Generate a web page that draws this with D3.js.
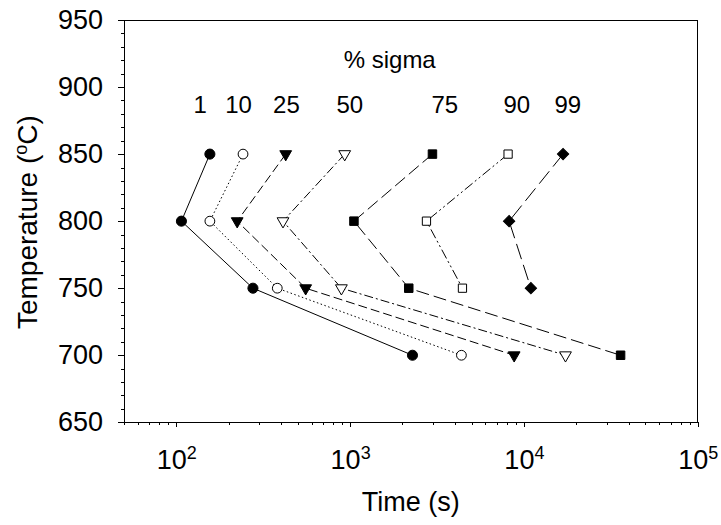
<!DOCTYPE html>
<html>
<head>
<meta charset="utf-8">
<script src="https://cdn.jsdelivr.net/npm/d3@7"></script>
<style>
    body { margin: 0; background: #fff; }
    svg text { font-family: Arial, "Liberation Sans", sans-serif; fill: #000; }
    .axis path, .axis line { stroke: #000; stroke-width: 1; shape-rendering: crispEdges; }
    .series { fill: none; stroke: #000; stroke-width: 1; }
</style>
</head>
<body>
<script>
(function() {
    'use strict';

    // temperatures (ºC), same for every series; times in seconds
    let temps = [850, 800, 750, 700];
    let sigma1 = [156, 107, 276, 2285];
    let sigma10 = [242, 156, 381, 4370];
    let sigma25 = [426, 224, 555, 8790];
    let sigma50 = [931, 411, 891, 17350];
    let sigma75 = [2977, 1052, 2175, 36000];
    let sigma90 = [8110, 2750, 4430];
    let sigma99 = [16800, 8220, 10970];

    let seriesNames = ["1", "10", "25", "50", "75", "90", "99"];
    let seriesTimes = [sigma1, sigma10, sigma25, sigma50, sigma75, sigma90, sigma99];
    let labelTimes = [137, 228, 430, 995, 3505, 9100, 17900];
    let labelTemp = 880.5;
    let titleTime = 1690;
    let titleTemp = 914;

    let yTicks = [650, 700, 750, 800, 850, 900, 950];
    let xTicks = [1e2, 1e3, 1e4, 1e5];

    let symbols = ["circleFill", "circleOpen", "triFill", "triOpen", "squareFill", "squareOpen", "diamondFill"];
    let dashes = [null, "1.5,2.5", "9,4", "9,3,2,3", "13,5", "10,3,2,3,2,3", "16,6"];

    let W = 721, H = 525;
    let left = 124, top = 20, right = 697.7, bottom = 422.3;

    let svg = d3.select("body").append("svg")
        .attr("width", W)
        .attr("height", H);

    let x = d3.scaleLog().domain([50, 1e5]).range([left, right]);
    let y = d3.scaleLinear().domain([650, 950]).range([bottom, top]);

    // frame
    svg.append("rect")
        .attr("x", left).attr("y", top)
        .attr("width", right - left).attr("height", bottom - top)
        .attr("fill", "none").attr("stroke", "#000")
        .attr("shape-rendering", "crispEdges");

    // y axis: minor then major ticks
    let yMinor = d3.range(650, 951, 10).filter(function(v) { return v % 50 !== 0; });
    svg.append("g").attr("class", "axis")
        .attr("transform", "translate(" + left + ",0)")
        .call(d3.axisLeft(y).tickValues(yMinor).tickSize(3).tickFormat(""))
        .call(function(g) { g.select(".domain").remove(); });
    let yAxis = svg.append("g").attr("class", "axis")
        .attr("transform", "translate(" + left + ",0)")
        .call(d3.axisLeft(y).tickValues(yTicks).tickSize(6).tickPadding(15));
    yAxis.select(".domain").remove();
    yAxis.selectAll("text").attr("font-size", 27).attr("font-family", null);

    // x axis
    let xMinor = [];
    [10, 100, 1000, 10000].forEach(function(d) {
        for (let k = 2; k <= 9; k++) {
            let v = d * k;
            if (v >= 50 && v <= 1e5) xMinor.push(v);
        }
    });
    svg.append("g").attr("class", "axis")
        .attr("transform", "translate(0," + bottom + ")")
        .call(d3.axisBottom(x).tickValues(xMinor).tickSize(3).tickFormat(""))
        .call(function(g) { g.select(".domain").remove(); });
    let xAxis = svg.append("g").attr("class", "axis")
        .attr("transform", "translate(0," + bottom + ")")
        .call(d3.axisBottom(x).tickValues(xTicks).tickSize(5).tickFormat(""));
    xAxis.select(".domain").remove();
    xAxis.selectAll(".tick").append("text")
        .attr("y", 47)
        .attr("text-anchor", "middle")
        .attr("font-size", 27)
        .attr("font-family", null)
        .each(function(d) {
            let t = d3.select(this);
            t.append("tspan").text("10");
            t.append("tspan").attr("dy", -10).attr("font-size", 18)
                .text(Math.round(Math.log10(d)));
        });

    // axis titles
    svg.append("text")
        .attr("x", (left + right) / 2).attr("y", 511)
        .attr("text-anchor", "middle").attr("font-size", 27)
        .text("Time (s)");
    let yt = svg.append("text")
        .attr("transform", "translate(37," + ((top + bottom) / 2 + 1) + ") rotate(-90)")
        .attr("text-anchor", "middle").attr("font-size", 28);
    yt.append("tspan").text("Temperature (");
    yt.append("tspan").attr("dy", -10).attr("font-size", 18).text("o");
    yt.append("tspan").attr("dy", 10).text("C)");

    // series lines
    let line = d3.line()
        .x(function(d) { return x(d[0]); })
        .y(function(d) { return y(d[1]); });

    let sym = {
        circleFill: { type: d3.symbolCircle, size: 80, fill: "#000" },
        circleOpen: { type: d3.symbolCircle, size: 75, fill: "#fff" },
        triFill: { type: d3.symbolTriangle, size: 60, fill: "#000", rot: 180 },
        triOpen: { type: d3.symbolTriangle, size: 60, fill: "#fff", rot: 180 },
        squareFill: { type: d3.symbolSquare, size: 72, fill: "#000" },
        squareOpen: { type: d3.symbolSquare, size: 68, fill: "#fff" },
        diamondFill: { type: d3.symbolSquare, size: 64, fill: "#000", rot: 45 }
    };

    seriesTimes.forEach(function(times, i) {
        let pts = times.map(function(t, j) { return [t, temps[j]]; });
        let path = svg.append("path")
            .attr("class", "series")
            .attr("d", line(pts));
        if (dashes[i]) path.attr("stroke-dasharray", dashes[i]);

        let s = sym[symbols[i]];
        svg.append("g").selectAll("path")
            .data(pts)
            .enter()
            .append("path")
            .attr("d", d3.symbol().type(s.type).size(s.size))
            .attr("transform", function(d) {
                return "translate(" + x(d[0]) + "," + y(d[1]) + ")" + (s.rot ? " rotate(" + s.rot + ")" : "");
            })
            .attr("fill", s.fill)
            .attr("stroke", "#000")
            .attr("stroke-width", 1);
    });

    // annotations
    svg.append("text")
        .attr("x", x(titleTime)).attr("y", y(titleTemp))
        .attr("text-anchor", "middle").attr("font-size", 24)
        .text("% sigma");
    svg.append("g").selectAll("text")
        .data(seriesNames)
        .enter()
        .append("text")
        .attr("x", function(d, i) { return x(labelTimes[i]); })
        .attr("y", y(labelTemp))
        .attr("text-anchor", "middle").attr("font-size", 24)
        .text(function(d) { return d; });
})();
</script>
</body>
</html>
